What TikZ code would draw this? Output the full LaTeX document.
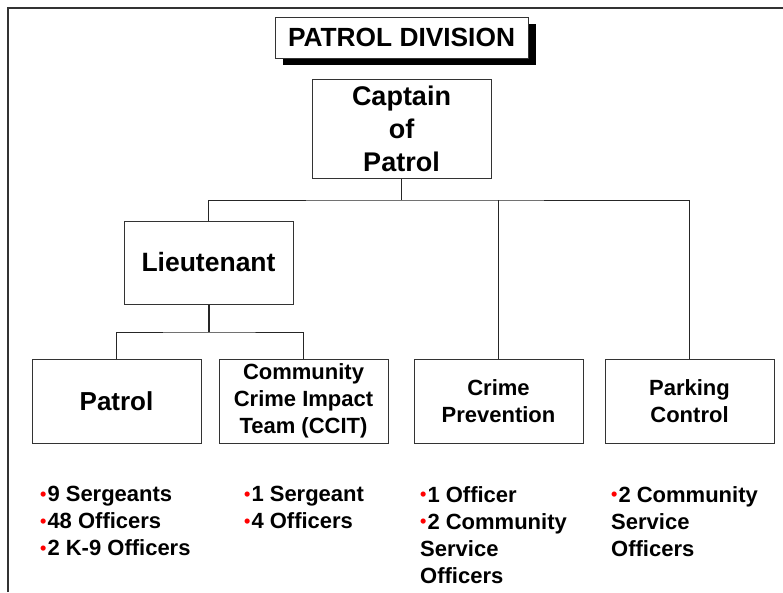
\documentclass[tikz,border=0pt]{standalone}
\usepackage{fontspec}
\setmainfont{Liberation Sans}
\usetikzlibrary{shadows}
\newcommand{\rb}{\textcolor{red}{\raisebox{1.5pt}{\fontsize{18}{18}\selectfont •}}\kern1pt}
\tikzset{
  box/.style={draw=black!80, line width=1pt, fill=white, minimum width=169pt, minimum height=84pt, inner sep=0pt, align=center, font=\fontsize{22}{27}\selectfont\bfseries},
  conn/.style={draw=black!85, line width=1pt},
  listtext/.style={anchor=north west, inner sep=0pt, align=left, font=\fontsize{22}{27}\selectfont\bfseries},
}
\begin{document}
\begin{tikzpicture}[x=1pt,y=-1pt]
\useasboundingbox (0,0) rectangle (783,592);
\draw[line width=1.5pt, black!80] (8,592) -- (8,8) -- (783,8);
% title
\node[draw=black!80, line width=1pt, fill=white, minimum width=253pt, minimum height=41pt, inner sep=0pt,
  drop shadow={shadow xshift=8pt, shadow yshift=-7pt, fill=black, opacity=1},
  font=\fontsize{26.3}{30}\selectfont\bfseries] (title) at (401.5,37.5) {PATROL DIVISION};
% boxes
\node[box, minimum width=179pt, minimum height=99pt, font=\fontsize{27}{33}\selectfont\bfseries] (cap) at (401.5,128.5) {Captain\\of\\Patrol};
\node[box, minimum height=83pt, font=\fontsize{26.5}{30}\selectfont\bfseries] (lt) at (208.5,262.5) {Lieutenant};
\node[box, font=\fontsize{26}{30}\selectfont\bfseries] (patrol) at (116.5,401) {Patrol};
\node[box] (ccit) at (303.5,401) {Community\\Crime Impact\\Team (CCIT)};
\node[box] (crime) at (498.5,401) {Crime\\Prevention};
\node[box] (park) at (689.5,401) {Parking\\Control};
% connectors
\coordinate (j1) at (cap.south |- 0,200);
\coordinate (j2) at (lt.south |- 0,332);
\draw[conn] (cap.south) -- (j1);
\draw[conn] (lt.north) |- (j1) -| (park.north);
\draw[conn] (j1 -| crime.north) -- (crime.north);
\draw[conn, line width=2pt] (lt.south) -- (j2);
\draw[conn] (patrol.north) |- (j2) -| (ccit.north);
% lists
\node[listtext] (l1) at (40,486) {\rb9 Sergeants\\\rb48 Officers\\\rb2 K-9 Officers};
\node[listtext] (l2) at (244,486) {\rb1 Sergeant\\\rb4 Officers};
\node[listtext] (l3) at (420,486) {\rb1 Officer\\\rb2 Community\\Service\\Officers};
\node[listtext] (l4) at (611,486) {\rb2 Community\\Service\\Officers};
\end{tikzpicture}
\end{document}
